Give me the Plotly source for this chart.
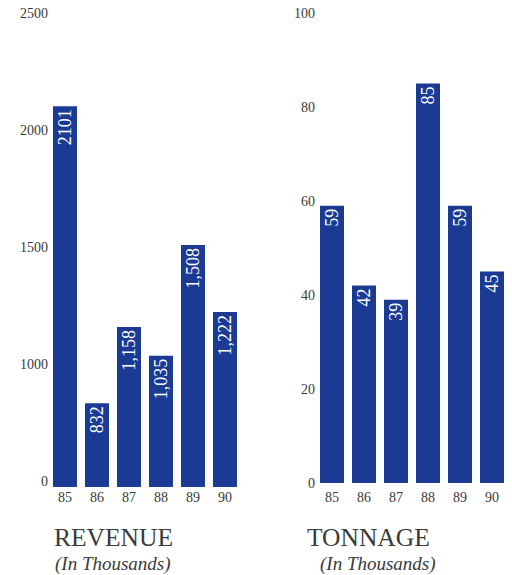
import plotly.graph_objects as go
from plotly.subplots import make_subplots

# Fiscal years shown on both panels
years = ["85", "86", "87", "88", "89", "90"]

# Revenue (in thousands)
revenue = [2101, 832, 1158, 1035, 1508, 1222]
revenue_labels = ["2101", "832", "1,158", "1,035", "1,508", "1,222"]
revenue_tickvals = [500, 1000, 1500, 2000, 2500]
revenue_ticktext = ["0", "1000", "1500", "2000", "2500"]

# Tonnage (in thousands)
tonnage = [59, 42, 39, 85, 59, 45]
tonnage_labels = ["59", "42", "39", "85", "59", "45"]
tonnage_tickvals = [0, 20, 40, 60, 80, 100]
tonnage_ticktext = ["0", "20", "40", "60", "80", "100"]

BAR = "#1a3a94"
INK = "#3a3a3a"
SERIF = "Liberation Serif"

W, H = 512, 575
TOP, BOTTOM = 5, 487

fig = make_subplots(rows=1, cols=2)

for col, vals, labels in ((1, revenue, revenue_labels), (2, tonnage, tonnage_labels)):
    fig.add_trace(
        go.Bar(
            x=years, y=vals, text=labels,
            marker=dict(color=BAR, line=dict(width=0)),
            textposition="inside", insidetextanchor="end",
            textangle=-90, constraintext="none",
            textfont=dict(family=SERIF, size=18, color="white"),
            hoverinfo="skip", showlegend=False,
        ),
        row=1, col=col,
    )

xcommon = dict(
    showgrid=False, zeroline=False, showline=False, ticks="",
    tickfont=dict(family=SERIF, size=14, color=INK),
    range=[-0.5, 5.5],
)
ycommon = dict(
    showgrid=False, zeroline=False, showline=False, ticks="",
    tickfont=dict(family=SERIF, size=14, color=INK),
    tickmode="array",
)

fig.update_layout(
    width=W, height=H,
    margin=dict(l=0, r=0, t=TOP, b=H - BOTTOM),
    paper_bgcolor="white", plot_bgcolor="white",
    bargap=0.25,
    xaxis=dict(domain=[49 / W, 241 / W], **xcommon),
    xaxis2=dict(domain=[316 / W, 508 / W], **xcommon),
    yaxis=dict(range=[474, 2534], tickvals=revenue_tickvals,
               ticktext=revenue_ticktext, **ycommon),
    yaxis2=dict(range=[-0.85, 101.7], tickvals=tonnage_tickvals,
                ticktext=tonnage_ticktext, **ycommon),
)

plot_h = BOTTOM - TOP


def py(pixel_y):
    return (BOTTOM - pixel_y) / plot_h


titles = [
    (113, "REVENUE", "(In Thousands)", 113),
    (368, "TONNAGE", "(In Thousands)", 378),
]
for cx, main, sub, sx in titles:
    fig.add_annotation(
        x=cx / W, y=py(537), xref="paper", yref="paper",
        text=main, showarrow=False, xanchor="center", yanchor="middle",
        font=dict(family=SERIF, size=25.5, color=INK),
    )
    fig.add_annotation(
        x=sx / W, y=py(564), xref="paper", yref="paper",
        text="<i>" + sub + "</i>", showarrow=False,
        xanchor="center", yanchor="middle",
        font=dict(family=SERIF, size=19, color=INK),
    )

fig.write_html("out.html")
